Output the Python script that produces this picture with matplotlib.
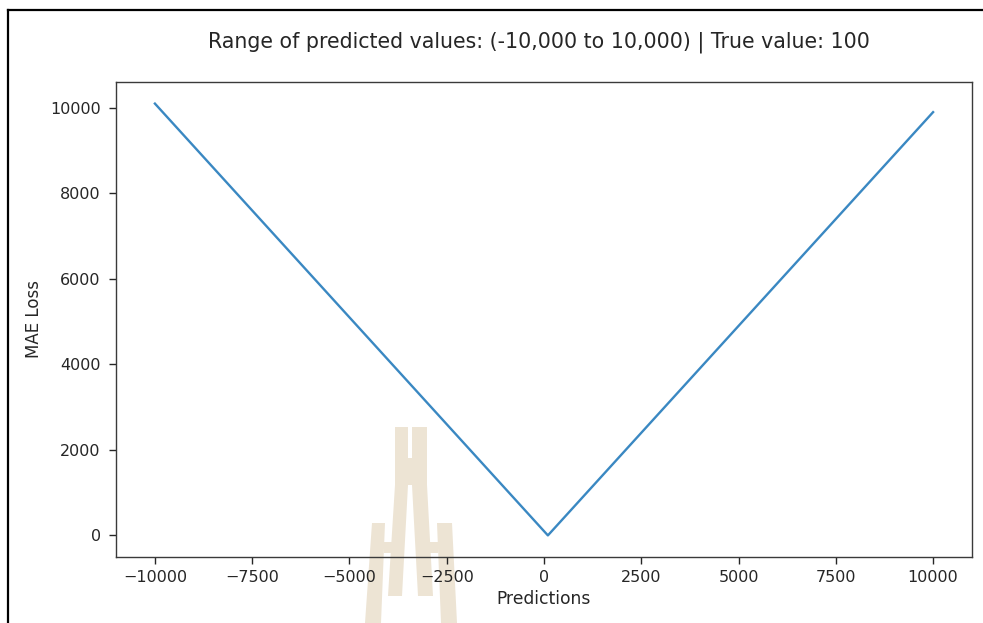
import matplotlib
matplotlib.use("Agg")
import matplotlib.pyplot as plt
from matplotlib.patches import Polygon
from matplotlib.lines import Line2D

# MAE loss against the prediction, true value = 100
predictions = [-10000, 100, 10000]
mae_loss = [10100, 0, 9900]
x_ticks = [-10000, -7500, -5000, -2500, 0, 2500, 5000, 7500, 10000]
y_ticks = [0, 2000, 4000, 6000, 8000, 10000]
title_text = "Range of predicted values: (-10,000 to 10,000) | True value: 100"

W, H = 983, 623
fig = plt.figure(figsize=(W / 100, H / 100), dpi=100)
fig.patch.set_facecolor("white")

TEXT = "#262626"


def px(x, y):
    """Pixel position (from top-left) to figure fraction."""
    return (x / W, 1 - y / H)


# page frame (top and left rules)
fig.add_artist(Line2D([px(8, 0)[0], px(8, 0)[0]], [px(0, 10)[1], 0.0],
                      transform=fig.transFigure, color="black", lw=1.6))
fig.add_artist(Line2D([px(8, 0)[0], 1.0], [px(0, 10)[1], px(0, 10)[1]],
                      transform=fig.transFigure, color="black", lw=1.6))

# faint emblem behind the plot
beige = "#ede4d4"
shapes = [
    # upper twin column with notch
    [(395, 427), (408, 427), (408, 458), (412, 458), (412, 427), (427, 427),
     (427, 485), (395, 485)],
    # left inner leg
    [(395, 485), (408, 485), (402, 596), (388, 596)],
    # right inner leg
    [(412, 485), (427, 485), (433, 596), (418, 596)],
    # left outer bar
    [(372, 523), (385, 523), (381, 623), (365, 623)],
    # right outer bar
    [(437, 523), (452, 523), (457, 623), (441, 623)],
    # cross pieces
    [(384, 542), (396, 542), (396, 553), (384, 553)],
    [(426, 542), (438, 542), (438, 553), (426, 553)],
]
for s in shapes:
    fig.add_artist(Polygon([px(x, y) for x, y in s], closed=True,
                           transform=fig.transFigure, facecolor=beige,
                           edgecolor="none", zorder=-5))

ax = fig.add_axes([116 / W, 1 - 557 / H, 856 / W, 475 / H])
ax.set_facecolor("none")

ax.plot(predictions, mae_loss, color="#3a88c2", lw=1.7)

ax.set_xticks(x_ticks)
ax.set_yticks(y_ticks)
ax.tick_params(labelsize=11.5, colors=TEXT, length=5, width=1)
ax.tick_params(axis="y", pad=6)
ax.tick_params(axis="x", pad=4)
for sp in ax.spines.values():
    sp.set_color("#3a3a3a")
    sp.set_linewidth(1.0)

ax.set_xlabel("Predictions", fontsize=12.3, color=TEXT, labelpad=4)
ax.set_ylabel("MAE Loss", fontsize=12, color=TEXT, labelpad=5)
ax.set_title(title_text, fontsize=14.8, color=TEXT, pad=25, x=0.494)

fig.savefig("out.png", dpi=100)
